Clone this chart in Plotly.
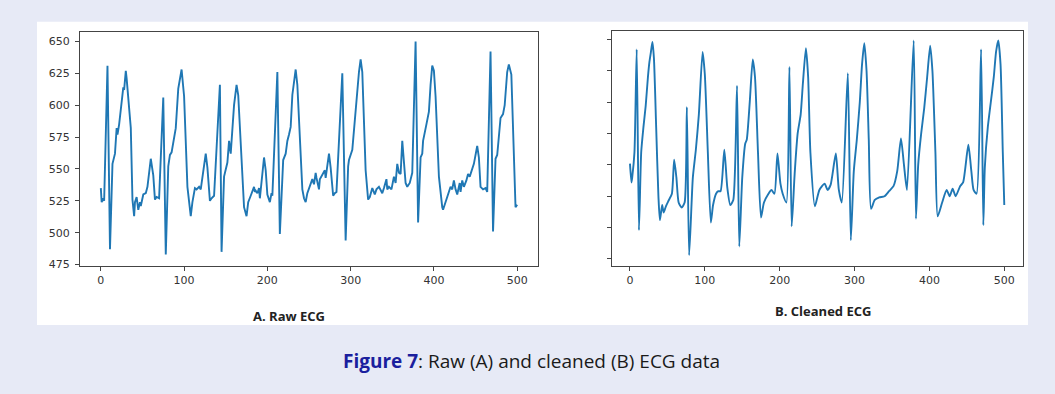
import plotly.graph_objects as go

# ---- Data: Raw ECG (A) ----
raw_x = [0, 1, 3, 4, 8, 11, 14, 17, 19, 20, 22, 26, 27, 28, 30, 31, 36, 38, 40, 41, 43, 45, 47, 48, 51, 54, 56, 60, 63, 65, 67, 70,
         75, 78, 81, 83, 85, 90, 93, 97, 100, 104, 108, 110, 112, 113, 115, 118, 120, 126, 128, 131, 133, 136,
         143, 145, 148, 152, 154, 156, 160, 163, 165, 169, 172, 175, 177, 180, 181, 184, 185, 186, 188, 190, 191, 196, 198, 200, 203, 205, 206,
         212, 215, 218, 219, 222, 224, 226, 228, 230, 234, 236, 240, 242, 244, 246, 248, 250, 254, 256, 258, 259, 262, 263, 266, 269, 270, 274, 276, 279, 281, 283,
         290, 294, 297, 298, 302, 304, 307, 310, 312, 314, 318, 321, 323, 326, 329, 331, 334, 337, 338, 340, 343, 344, 346, 349, 352, 354, 356, 358, 360, 362, 363, 366, 368, 371, 374,
         378, 381, 384, 386, 387, 391, 394, 396, 398, 400, 402, 406, 408, 410, 411, 414, 417, 420, 422, 424, 426, 428, 431, 432, 434, 436, 439, 441, 443, 448, 452, 454, 456, 459, 462, 464,
         468, 471, 474, 476, 477, 480, 483, 485, 488, 490, 493, 495, 497, 498, 500]
raw_y = [535, 524, 527, 525, 631, 487, 554, 562, 582, 577, 585, 608, 614, 612, 627, 621, 582, 526, 513, 524, 528, 518, 524, 521, 530, 531, 536, 558, 545, 526, 528, 527,
         606, 483, 552, 561, 563, 582, 613, 628, 607, 536, 513, 524, 531, 535, 534, 536, 534, 562, 551, 525, 527, 529,
         616, 485, 544, 555, 572, 562, 600, 616, 608, 557, 520, 513, 524, 529, 531, 536, 532, 533, 531, 535, 527, 559, 549, 530, 524, 531, 529,
         626, 499, 554, 557, 562, 572, 577, 583, 608, 628, 616, 552, 534, 527, 524, 531, 535, 542, 538, 547, 543, 534, 542, 545, 549, 543, 562, 551, 529, 531, 532,
         625, 494, 552, 557, 565, 582, 608, 626, 636, 626, 549, 526, 528, 535, 530, 534, 536, 532, 531, 535, 542, 534, 536, 534, 544, 539, 554, 547, 546, 572, 562, 539, 536, 539, 547,
         650, 508, 559, 562, 572, 585, 595, 616, 631, 627, 607, 544, 529, 520, 518, 524, 530, 536, 534, 541, 534, 530, 539, 532, 541, 536, 541, 546, 544, 554, 568, 559, 536, 534, 535, 532,
         642, 501, 558, 561, 568, 590, 593, 600, 626, 632, 624, 582, 545, 520, 522]

# ---- Data: Cleaned ECG (B) ----
clean_x = [0, 2, 3, 6, 9, 12, 15, 18, 21, 24, 26, 28, 30, 32, 35, 38, 40, 43, 45, 48, 52, 56, 59, 62, 65, 69, 73,
           76, 79, 84, 88, 92, 97, 100, 104, 108, 111, 115, 118, 121, 126, 130, 134, 138,
           143, 146, 150, 154, 156, 160, 164, 167, 171, 175, 179, 185, 189, 193, 197, 201, 204, 209,
           213, 216, 220, 224, 228, 231, 235, 238, 241, 247, 253, 260, 264, 268, 275, 279, 283,
           291, 295, 299, 303, 307, 310, 313, 316, 319, 322, 327, 333, 340, 346, 352, 357, 362, 366, 370,
           379, 382, 385, 389, 393, 397, 401, 404, 408, 411, 417, 423, 427, 431, 435, 441, 445, 452, 456, 459, 463,
           469, 472, 474, 478, 482, 486, 489, 492, 495, 498, 500]
clean_y = [551, 536, 540, 560, 642, 498, 560, 580, 597, 620, 632, 640, 648, 635, 580, 525, 506, 518, 512, 517, 522, 527, 554, 540, 520, 516, 520,
           596, 478, 540, 562, 590, 640, 622, 560, 504, 518, 527, 529, 529, 562, 532, 518, 522,
           613, 485, 540, 567, 570, 600, 634, 620, 560, 508, 520, 527, 530, 527, 559, 535, 527, 520,
           628, 501, 543, 575, 590, 615, 643, 620, 560, 517, 530, 535, 530, 534, 559, 530, 520,
           623, 490, 545, 570, 600, 630, 647, 625, 570, 515, 522, 524, 525, 529, 533, 545, 571, 550, 530,
           649, 507, 550, 575, 595, 620, 645, 625, 560, 509, 520, 530, 525, 531, 525, 533, 536, 566, 545, 530, 527,
           642, 502, 548, 580, 600, 620, 640, 649, 630, 560, 518]

y_ticks = [475, 500, 525, 550, 575, 600, 625, 650]
x_ticks = [0, 100, 200, 300, 400, 500]

BG = "#e7eaf6"
LINE = "#1f77b4"
AX = "#444444"

fig = go.Figure()
fig.add_trace(go.Scatter(x=raw_x, y=raw_y, mode="lines", line=dict(color=LINE, width=1.9),
                         xaxis="x", yaxis="y", showlegend=False, hoverinfo="skip"))
fig.add_trace(go.Scatter(x=clean_x, y=clean_y, mode="lines", line=dict(color=LINE, width=1.9, shape="spline", smoothing=0.6),
                         xaxis="x2", yaxis="y2", showlegend=False, hoverinfo="skip"))

W, H = 1055, 394
def px(v):
    return v / W
def py(v):
    return 1 - v / H

axis_common = dict(showgrid=False, zeroline=False, showline=True, linecolor=AX, linewidth=1,
                   mirror=True, ticks="outside", ticklen=4, tickcolor=AX, tickwidth=1,
                   tickfont=dict(family="DejaVu Sans", size=11, color="#333333"))

fig.update_layout(
    width=W, height=H,
    margin=dict(l=0, r=0, t=0, b=0),
    paper_bgcolor=BG,
    plot_bgcolor="white",
    xaxis=dict(domain=[px(80), px(538)], range=[-25, 525], tickvals=x_ticks, anchor="y", **axis_common),
    yaxis=dict(domain=[py(270), py(33)], range=[474, 657], tickvals=y_ticks, anchor="x",
               ticklabelstandoff=3, **axis_common),
    xaxis2=dict(domain=[px(612), px(1023)], range=[-24, 525], tickvals=x_ticks, anchor="y2", **axis_common),
    yaxis2=dict(domain=[py(270), py(31)], range=[469.5, 657], tickvals=y_ticks,
                ticktext=["" for _ in y_ticks], anchor="x2", **axis_common),
    shapes=[dict(type="rect", xref="paper", yref="paper", x0=px(37), x1=px(1028), y0=py(330), y1=py(22),
                 fillcolor="white", line=dict(width=0), layer="below")],
    annotations=[
        dict(text="<b>A. Raw ECG</b>", xref="paper", yref="paper", x=px(289), y=py(321),
             showarrow=False, font=dict(family="Open Sans", size=13, color="#222222"), xanchor="center", yanchor="middle"),
        dict(text="<b>B. Cleaned ECG</b>", xref="paper", yref="paper", x=px(823), y=py(316),
             showarrow=False, font=dict(family="Open Sans", size=13, color="#222222"), xanchor="center", yanchor="middle"),
        dict(text="<b><span style='color:#1b1f9e'>Figure 7</span></b>: Raw (A) and cleaned (B) ECG data",
             xref="paper", yref="paper", x=px(531), y=py(367), showarrow=False,
             font=dict(family="Open Sans", size=19, color="#1a1a1a"), xanchor="center", yanchor="middle"),
    ],
)

fig.write_html("out.html", config={"displayModeBar": False},
               post_script="document.body.style.margin='0';document.body.style.overflow='hidden';")
